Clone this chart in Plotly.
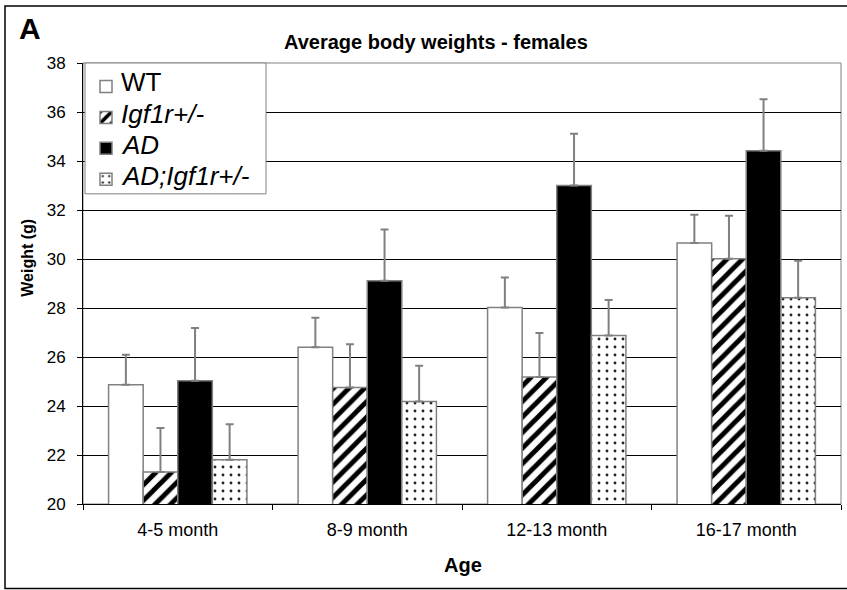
import plotly.graph_objects as go

# Age groups and mean body weights (g) with upper error bars
ages = ["4-5 month", "8-9 month", "12-13 month", "16-17 month"]

wt_mean = [24.87, 26.40, 28.02, 30.65]
wt_err = [1.22, 1.20, 1.22, 1.16]

igf_mean = [21.31, 24.76, 25.18, 30.01]
igf_err = [1.79, 1.76, 1.80, 1.76]

ad_mean = [25.03, 29.11, 33.00, 34.42]
ad_err = [2.15, 2.09, 2.11, 2.10]

adigf_mean = [21.81, 24.18, 26.88, 28.42]
adigf_err = [1.45, 1.46, 1.45, 1.51]

series_labels = ["WT", "<i>Igf1r+/-</i>", "<i>AD</i>", "<i>AD;Igf1r+/-</i>"]
y_ticks = [20, 22, 24, 26, 28, 30, 32, 34, 36, 38]

FONT = "Arial, Liberation Sans, sans-serif"
W, H = 847, 590
L, R, T, B = 83, 841, 63, 504.5


def px_x(p):
    return (p - L) / (R - L)


def px_y(p):
    return (B - p) / (B - T)


def err(vals):
    return dict(type="data", symmetric=False, array=vals, arrayminus=[0] * len(vals),
                color="#808080", thickness=2, width=4)


outline = dict(color="#808080", width=1.5)
markers = [
    dict(color="white", line=outline),
    dict(color="white", line=outline,
         pattern=dict(shape="/", fgcolor="black", bgcolor="white", fgopacity=1,
                      size=11, solidity=0.45, fillmode="replace")),
    dict(color="black", line=outline),
    dict(color="white", line=outline,
         pattern=dict(shape=".", fgcolor="#222", bgcolor="white", fgopacity=1,
                      size=8, solidity=0.1, fillmode="replace")),
]
means = [wt_mean, igf_mean, ad_mean, adigf_mean]
errs = [wt_err, igf_err, ad_err, adigf_err]

fig = go.Figure()
for i in range(4):
    # legend entries carry only the swatch; their labels are annotations below
    fig.add_trace(go.Bar(
        x=ages, y=means[i], name="\u00a0", error_y=err(errs[i]),
        marker=markers[i], legendgroup=str(i)))

shapes = [
    # outer frame
    dict(type="rect", xref="paper", yref="paper",
         x0=px_x(5), x1=px_x(852), y0=px_y(589), y1=px_y(6),
         line=dict(color="black", width=1.5), layer="below"),
    # plot area frame
    dict(type="rect", xref="paper", yref="paper", x0=0, x1=1, y0=0, y1=1,
         line=dict(color="#808080", width=1), layer="below"),
    # legend box
    dict(type="rect", xref="paper", yref="paper",
         x0=px_x(85), x1=px_x(266), y0=px_y(194), y1=px_y(63),
         fillcolor="white", line=dict(color="#808080", width=1), layer="above"),
]

annotations = [
    dict(text="<b>A</b>", x=px_x(30), y=px_y(28), xref="paper", yref="paper",
         xanchor="center", yanchor="middle", showarrow=False,
         font=dict(family=FONT, size=30, color="black")),
    dict(text="<b>Average body weights - females</b>", x=px_x(436), y=px_y(42),
         xref="paper", yref="paper", xanchor="center", yanchor="middle",
         showarrow=False, font=dict(family=FONT, size=20, color="black")),
    dict(text="<b>Weight (g)</b>", x=px_x(28), y=px_y(258), xref="paper", yref="paper",
         xanchor="center", yanchor="middle", showarrow=False, textangle=-90,
         font=dict(family=FONT, size=16, color="black")),
    dict(text="<b>Age</b>", x=px_x(463), y=px_y(566), xref="paper", yref="paper",
         xanchor="center", yanchor="middle", showarrow=False,
         font=dict(family=FONT, size=20, color="black")),
]

legend_rows = [82, 114, 145, 176]
for lbl, row in zip(series_labels, legend_rows):
    annotations.append(dict(
        text=lbl, x=px_x(119), y=px_y(row), xref="paper", yref="paper",
        xanchor="left", yanchor="middle", showarrow=False,
        font=dict(family=FONT, size=26, color="black")))

fig.update_layout(
    width=W, height=H,
    margin=dict(l=L, r=W - R, t=T, b=H - B, pad=0),
    paper_bgcolor="white", plot_bgcolor="white",
    font=dict(family=FONT, color="black"),
    barmode="group", bargap=0.27, bargroupgap=0,
    showlegend=True,
    legend=dict(x=px_x(86), y=px_y(66), xanchor="left", yanchor="top",
                bgcolor="rgba(0,0,0,0)", borderwidth=0,
                font=dict(family=FONT, size=21.5, color="black"),
                tracegroupgap=0, traceorder="normal"),
    shapes=shapes, annotations=annotations,
)

fig.update_xaxes(
    type="category", tickson="boundaries", ticks="outside", ticklen=5,
    tickcolor="black", showline=True, linecolor="black", linewidth=1,
    showgrid=False, tickfont=dict(family=FONT, size=18, color="black"),
    ticklabelstandoff=9, automargin=False,
)
fig.update_yaxes(
    range=[20, 38], tickvals=y_ticks, ticks="outside", ticklen=5,
    tickcolor="black", showline=True, linecolor="black", linewidth=1,
    showgrid=True, gridcolor="black", gridwidth=1, zeroline=False,
    tickfont=dict(family=FONT, size=17, color="black"),
    ticklabelstandoff=8, automargin=False,
)

fig.write_html("out.html")
